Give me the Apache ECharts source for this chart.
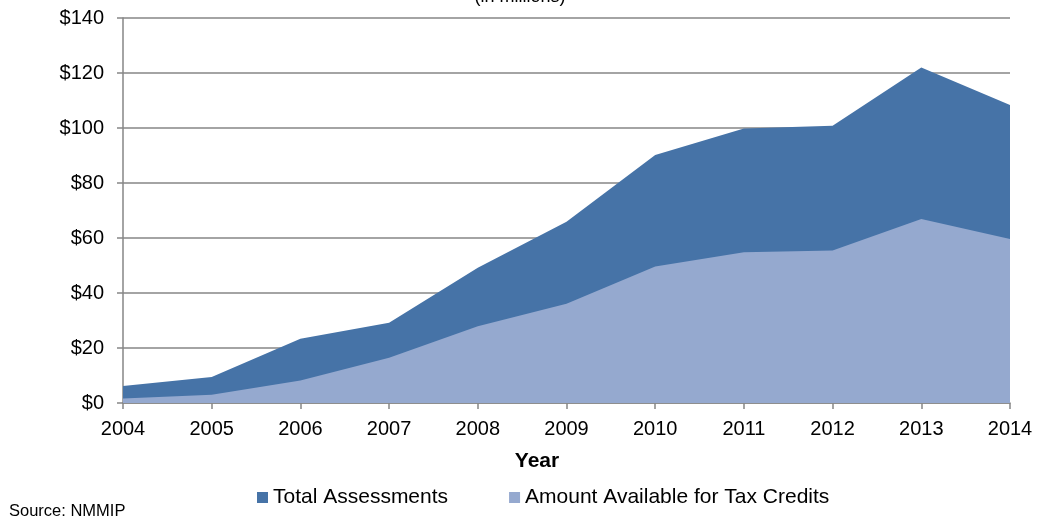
<!DOCTYPE html>
<html>
<head>
<meta charset="utf-8">
<script src="https://cdn.jsdelivr.net/npm/echarts@6/dist/echarts.min.js"></script>
<style>
  html, body { margin: 0; padding: 0; background: #fff; }
  #chart { width: 1038px; height: 519px; }
</style>
</head>
<body>
<div id="chart"></div>
<script>
// Fiscal years on the horizontal axis
const years = ['2004', '2005', '2006', '2007', '2008', '2009', '2010', '2011', '2012', '2013', '2014'];
// Total assessments, $ millions
const totalAssessments = [6.2, 9.5, 23.4, 29.2, 49.2, 65.9, 90.2, 99.8, 100.8, 122.0, 108.4];
// Portion available for tax credits, $ millions
const taxCreditAmounts = [1.6, 3.0, 8.2, 16.5, 27.9, 36.1, 49.6, 54.8, 55.5, 66.9, 59.6];
// Value axis ticks
const yTicks = [0, 20, 40, 60, 80, 100, 120, 140];

const font = 'Liberation Sans, Arial, sans-serif';
const chart = echarts.init(document.getElementById('chart'), null, { renderer: 'canvas' });

chart.setOption({
  animation: false,
  backgroundColor: '#ffffff',
  textStyle: { fontFamily: font },
  grid: { left: 123, right: 28, top: 18, bottom: 116, containLabel: false },
  graphic: [
    {
      type: 'text', x: 520, y: 6,
      style: { text: '(in millions)', font: '18px ' + font, fill: '#000', align: 'center', verticalAlign: 'bottom' }
    },
    {
      type: 'text', x: 537, y: 461,
      style: { text: 'Year', font: 'bold 21px ' + font, fill: '#000', align: 'center', verticalAlign: 'middle' }
    },
    {
      type: 'text', x: 9, y: 511,
      style: { text: 'Source: NMMIP', font: '16.5px ' + font, fill: '#000', verticalAlign: 'middle' }
    }
  ],
  legend: {
    left: 252, top: 482,
    itemWidth: 11, itemHeight: 11, itemGap: 61,
    icon: 'rect',
    textStyle: { fontFamily: font, fontSize: 21, color: '#000' },
    data: ['Total Assessments', 'Amount Available for Tax Credits']
  },
  xAxis: {
    type: 'category',
    data: years,
    boundaryGap: false,
    axisLine: { lineStyle: { color: '#868686', width: 1.5 } },
    axisTick: { show: true, length: 6, lineStyle: { color: '#868686', width: 1.5 } },
    axisLabel: { color: '#000', fontSize: 20, fontFamily: font, margin: 16 },
    splitLine: { show: false }
  },
  yAxis: {
    type: 'value',
    min: yTicks[0],
    max: yTicks[yTicks.length - 1],
    interval: 20,
    axisLine: { show: true, lineStyle: { color: '#868686', width: 1.5 } },
    axisTick: { show: true, length: 6, lineStyle: { color: '#868686', width: 1.5 } },
    axisLabel: { color: '#000', fontSize: 20, fontFamily: font, margin: 19, formatter: v => '$' + v },
    splitLine: { show: true, lineStyle: { color: '#868686', width: 1.5 } }
  },
  series: [
    {
      name: 'Total Assessments',
      type: 'line',
      data: totalAssessments,
      symbol: 'none',
      lineStyle: { width: 0 },
      itemStyle: { color: '#4673A7' },
      areaStyle: { color: '#4673A7', opacity: 1 },
      z: 2
    },
    {
      name: 'Amount Available for Tax Credits',
      type: 'line',
      data: taxCreditAmounts,
      symbol: 'none',
      lineStyle: { width: 0 },
      itemStyle: { color: '#95A9CF' },
      areaStyle: { color: '#95A9CF', opacity: 1 },
      z: 3
    }
  ]
});
</script>
</body>
</html>
